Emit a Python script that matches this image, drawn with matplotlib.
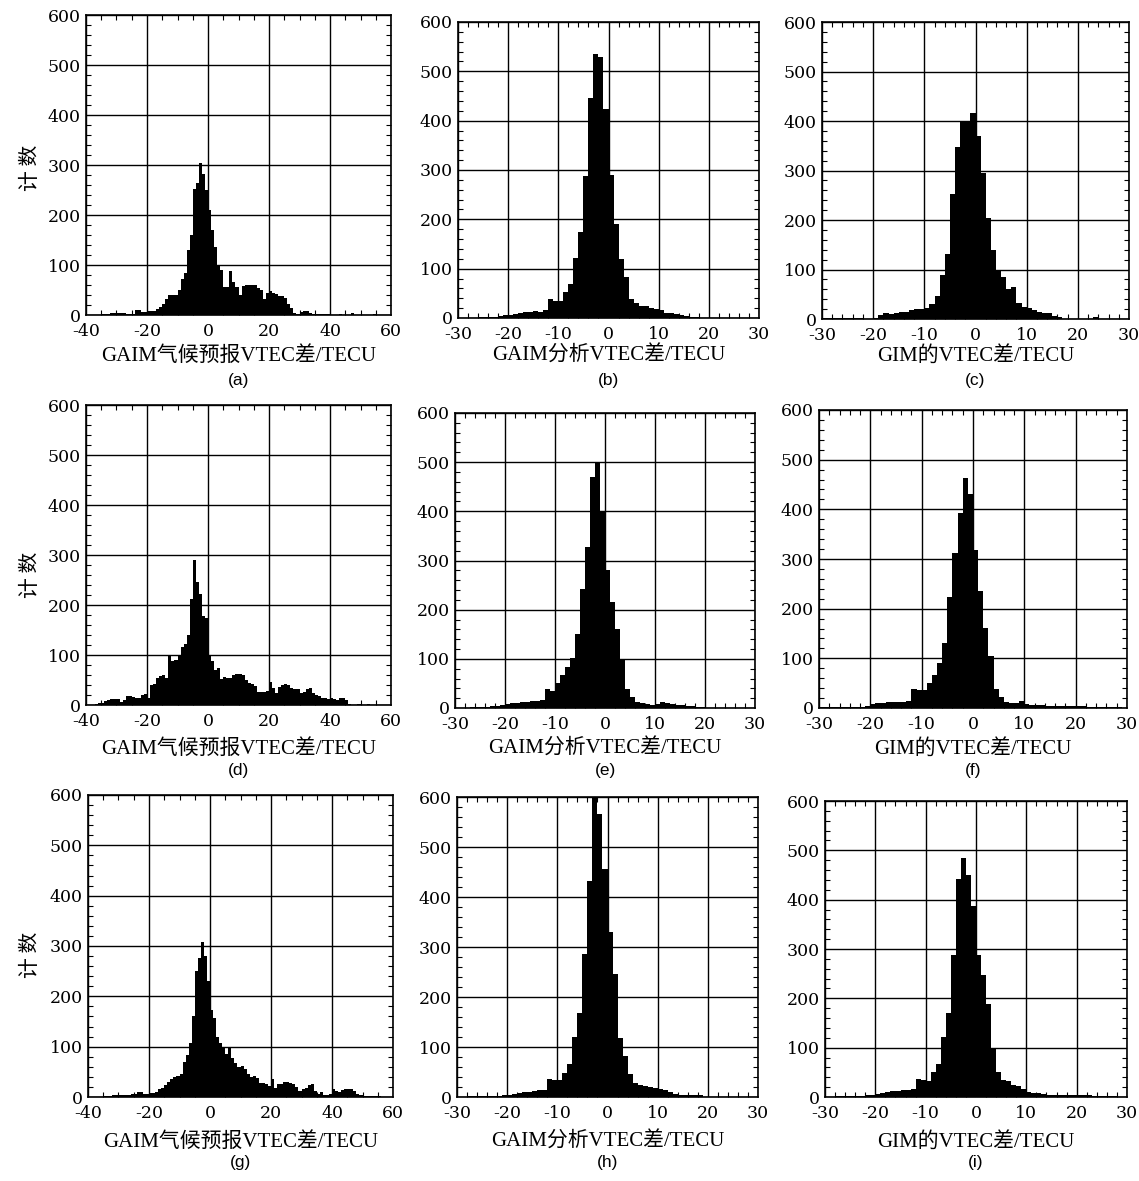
import numpy as np
import matplotlib
matplotlib.use("Agg")
import matplotlib.pyplot as plt
from matplotlib.ticker import MultipleLocator

plt.rcParams["axes.unicode_minus"] = False

# ---------------- data (counts per 1-TECU bin) ----------------
# wide panels: bins start at -40, narrow panels: bins start at -30
counts_a = [0, 0, 0, 0, 1, 3, 3, 3, 5, 5,
            5, 5, 4, 3, 3, 3, 10, 10, 7, 7,
            9, 9, 9, 12, 17, 23, 33, 40, 40, 40,
            50, 73, 85, 130, 160, 253, 265, 305, 283, 250,
            210, 170, 137, 100, 90, 57, 57, 89, 67, 57,
            40, 58, 60, 60, 60, 60, 55, 50, 33, 45,
            49, 45, 42, 38, 39, 35, 22, 15, 5, 3,
            6, 9, 9, 5, 3, 3, 2, 2, 2, 2,
            0, 0, 0, 2, 1, 1, 1, 5, 0, 0,
            0, 0, 0, 0, 3, 0, 0, 0, 0, 0]
counts_d = [0, 0, 1, 2, 4, 5, 8, 10, 12, 12,
            12, 7, 10, 18, 18, 16, 15, 14, 20, 23,
            15, 40, 42, 55, 59, 60, 55, 98, 89, 91,
            100, 117, 123, 140, 212, 290, 247, 223, 178, 175,
            98, 88, 70, 75, 52, 57, 55, 55, 61, 63,
            63, 60, 50, 45, 42, 38, 27, 27, 27, 28,
            47, 35, 25, 37, 41, 42, 40, 35, 32, 32,
            25, 27, 33, 35, 25, 20, 18, 15, 14, 12,
            15, 12, 10, 15, 15, 10, 2, 1, 1, 2,
            1, 1, 2, 1, 0, 0, 0, 0, 0, 0]
counts_g = [0, 0, 0, 0, 0, 1, 1, 2, 3, 3,
            3, 3, 3, 3, 5, 5, 9, 9, 5, 5,
            7, 7, 10, 15, 18, 23, 30, 35, 40, 42,
            45, 70, 83, 108, 160, 250, 277, 307, 280, 230,
            173, 157, 120, 108, 100, 85, 99, 77, 67, 60,
            61, 55, 45, 40, 42, 37, 27, 27, 25, 22,
            35, 18, 25, 25, 30, 30, 28, 25, 20, 12,
            15, 18, 23, 25, 12, 5, 10, 3, 4, 5,
            15, 12, 10, 13, 15, 15, 15, 12, 5, 3,
            2, 2, 2, 2, 1, 1, 0, 0, 0, 0]
counts_b = [1, 1, 1, 1, 3, 2, 3, 3, 5, 7,
            7, 9, 10, 12, 12, 15, 13, 17, 38, 34,
            34, 52, 68, 122, 174, 288, 446, 535, 530, 424,
            290, 190, 120, 83, 38, 30, 25, 24, 20, 18,
            17, 11, 11, 9, 7, 5, 3, 2, 1, 0,
            0, 0, 0, 0, 0, 0, 0, 0, 0, 0]
counts_e = [1, 1, 1, 2, 2, 3, 3, 4, 5, 7,
            9, 10, 11, 12, 12, 14, 14, 17, 39, 35,
            50, 68, 83, 102, 151, 243, 327, 470, 500, 400,
            280, 215, 161, 100, 39, 22, 12, 10, 8, 6,
            8, 12, 10, 8, 7, 6, 5, 4, 3, 2,
            1, 1, 1, 1, 1, 1, 1, 1, 1, 0]
counts_h = [1, 1, 2, 2, 2, 3, 3, 3, 3, 4,
            5, 7, 8, 10, 10, 12, 14, 15, 37, 34,
            34, 49, 66, 121, 169, 287, 432, 640, 566, 456,
            331, 247, 119, 83, 47, 28, 24, 22, 20, 18,
            16, 14, 10, 7, 5, 5, 5, 5, 5, 0,
            0, 0, 0, 0, 0, 0, 0, 0, 0, 0]
counts_c = [2, 2, 2, 2, 2, 2, 2, 2, 0, 0,
            3, 8, 12, 10, 12, 14, 15, 18, 20, 20,
            22, 30, 46, 89, 132, 252, 348, 401, 398, 417,
            370, 294, 205, 140, 99, 84, 60, 64, 32, 25,
            22, 19, 15, 13, 12, 7, 5, 0, 0, 0,
            0, 0, 0, 5, 0, 0, 0, 0, 0, 0]
counts_f = [2, 2, 2, 2, 2, 2, 2, 3, 2, 5,
            8, 10, 10, 12, 12, 13, 13, 15, 38, 37,
            37, 50, 67, 90, 130, 223, 313, 393, 464, 430,
            319, 235, 161, 104, 38, 23, 13, 10, 11, 15,
            9, 7, 7, 6, 5, 5, 5, 4, 4, 4,
            4, 4, 3, 3, 3, 3, 3, 3, 2, 0]
counts_i = [1, 1, 2, 2, 3, 3, 3, 3, 5, 5,
            7, 9, 10, 12, 12, 14, 15, 17, 37, 34,
            33, 50, 66, 121, 170, 288, 441, 485, 451, 388,
            288, 248, 188, 98, 50, 35, 33, 24, 22, 17,
            10, 9, 8, 7, 5, 5, 5, 5, 4, 4,
            4, 4, 4, 3, 3, 3, 3, 3, 0, 0]

xlabel_forecast = "GAIM气候预报VTEC差/TECU"
xlabel_analysis = "GAIM分析VTEC差/TECU"
xlabel_gim = "GIM的VTEC差/TECU"
ylabel_text = "计 数"
panel_tags = ["(a)", "(b)", "(c)", "(d)", "(e)", "(f)", "(g)", "(h)", "(i)"]
yticks = [0, 100, 200, 300, 400, 500, 600]
xticks_wide = [-40, -20, 0, 20, 40, 60]
xticks_narrow = [-30, -20, -10, 0, 10, 20, 30]

# ---------------- layout (pixel boxes: left, right, top, bottom) -------------
W, H = 1139, 1181
boxes = [
    (86, 391, 15, 315), (458, 759, 22, 318), (822, 1129, 22, 319),
    (86, 391, 405, 705), (455, 755, 413, 708), (819, 1127, 410, 708),
    (88, 393, 795, 1097), (457, 758, 797, 1097), (825, 1127, 801, 1097),
]
panels = [
    (counts_a, -40, "wide", xlabel_forecast), (counts_b, -30, "narrow", xlabel_analysis),
    (counts_c, -30, "narrow", xlabel_gim),
    (counts_d, -40, "wide", xlabel_forecast), (counts_e, -30, "narrow", xlabel_analysis),
    (counts_f, -30, "narrow", xlabel_gim),
    (counts_g, -40, "wide", xlabel_forecast), (counts_h, -30, "narrow", xlabel_analysis),
    (counts_i, -30, "narrow", xlabel_gim),
]
row_label_y = [356, 749, 1142]
row_tag_y = [381, 771, 1163]
row_ylabel_y = [168, 575, 955]

fig = plt.figure(figsize=(W / 100, H / 100), dpi=100)
fig.patch.set_facecolor("white")

tick_family = "DejaVu Serif"
tick_size = 12.5
label_family = ["Liberation Serif", "Noto Sans CJK SC"]

for k, ((cnts, start, kind, xl), (l, r, t, b)) in enumerate(zip(panels, boxes)):
    ax = fig.add_axes([l / W, 1 - b / H, (r - l) / W, (b - t) / H])
    cnts = np.asarray(cnts, dtype=float)
    edges = start + np.arange(len(cnts) + 1)
    ax.stairs(cnts, edges, fill=True, color="black", linewidth=0)
    if kind == "wide":
        ax.set_xlim(-40, 60)
        ax.set_xticks(xticks_wide)
        ax.xaxis.set_minor_locator(MultipleLocator(5))
    else:
        ax.set_xlim(-30, 30)
        ax.set_xticks(xticks_narrow)
        ax.xaxis.set_minor_locator(MultipleLocator(2))
    ax.set_ylim(0, 600)
    ax.set_yticks(yticks)
    ax.yaxis.set_minor_locator(MultipleLocator(20))
    ax.set_axisbelow(True)
    ax.grid(True, which="major", color="black", linewidth=1.0)
    ax.tick_params(which="both", direction="in", top=True, right=True, colors="black")
    ax.tick_params(axis="x", which="major", length=0, pad=6)
    ax.tick_params(axis="y", which="major", length=0, pad=4)
    ax.tick_params(which="minor", length=3.5, width=0.8)
    for lab in ax.get_xticklabels() + ax.get_yticklabels():
        lab.set_fontfamily(tick_family)
        lab.set_fontsize(tick_size)
    for sp in ax.spines.values():
        sp.set_linewidth(1.2)
        sp.set_color("black")

    row = k // 3
    cx = (l + r) / 2 / W
    fig.text(cx, 1 - row_label_y[row] / H, xl, family=label_family, size=15,
             ha="center", va="center")
    fig.text(cx, 1 - row_tag_y[row] / H, panel_tags[k], family="Liberation Sans",
             size=12.5, ha="center", va="center")
    if k % 3 == 0:
        fig.text(30 / W, 1 - row_ylabel_y[row] / H, ylabel_text,
                 family=["Noto Sans CJK SC", "DejaVu Sans"], size=15,
                 rotation=90, ha="center", va="center")

fig.savefig("out.png", dpi=100, facecolor="white")
